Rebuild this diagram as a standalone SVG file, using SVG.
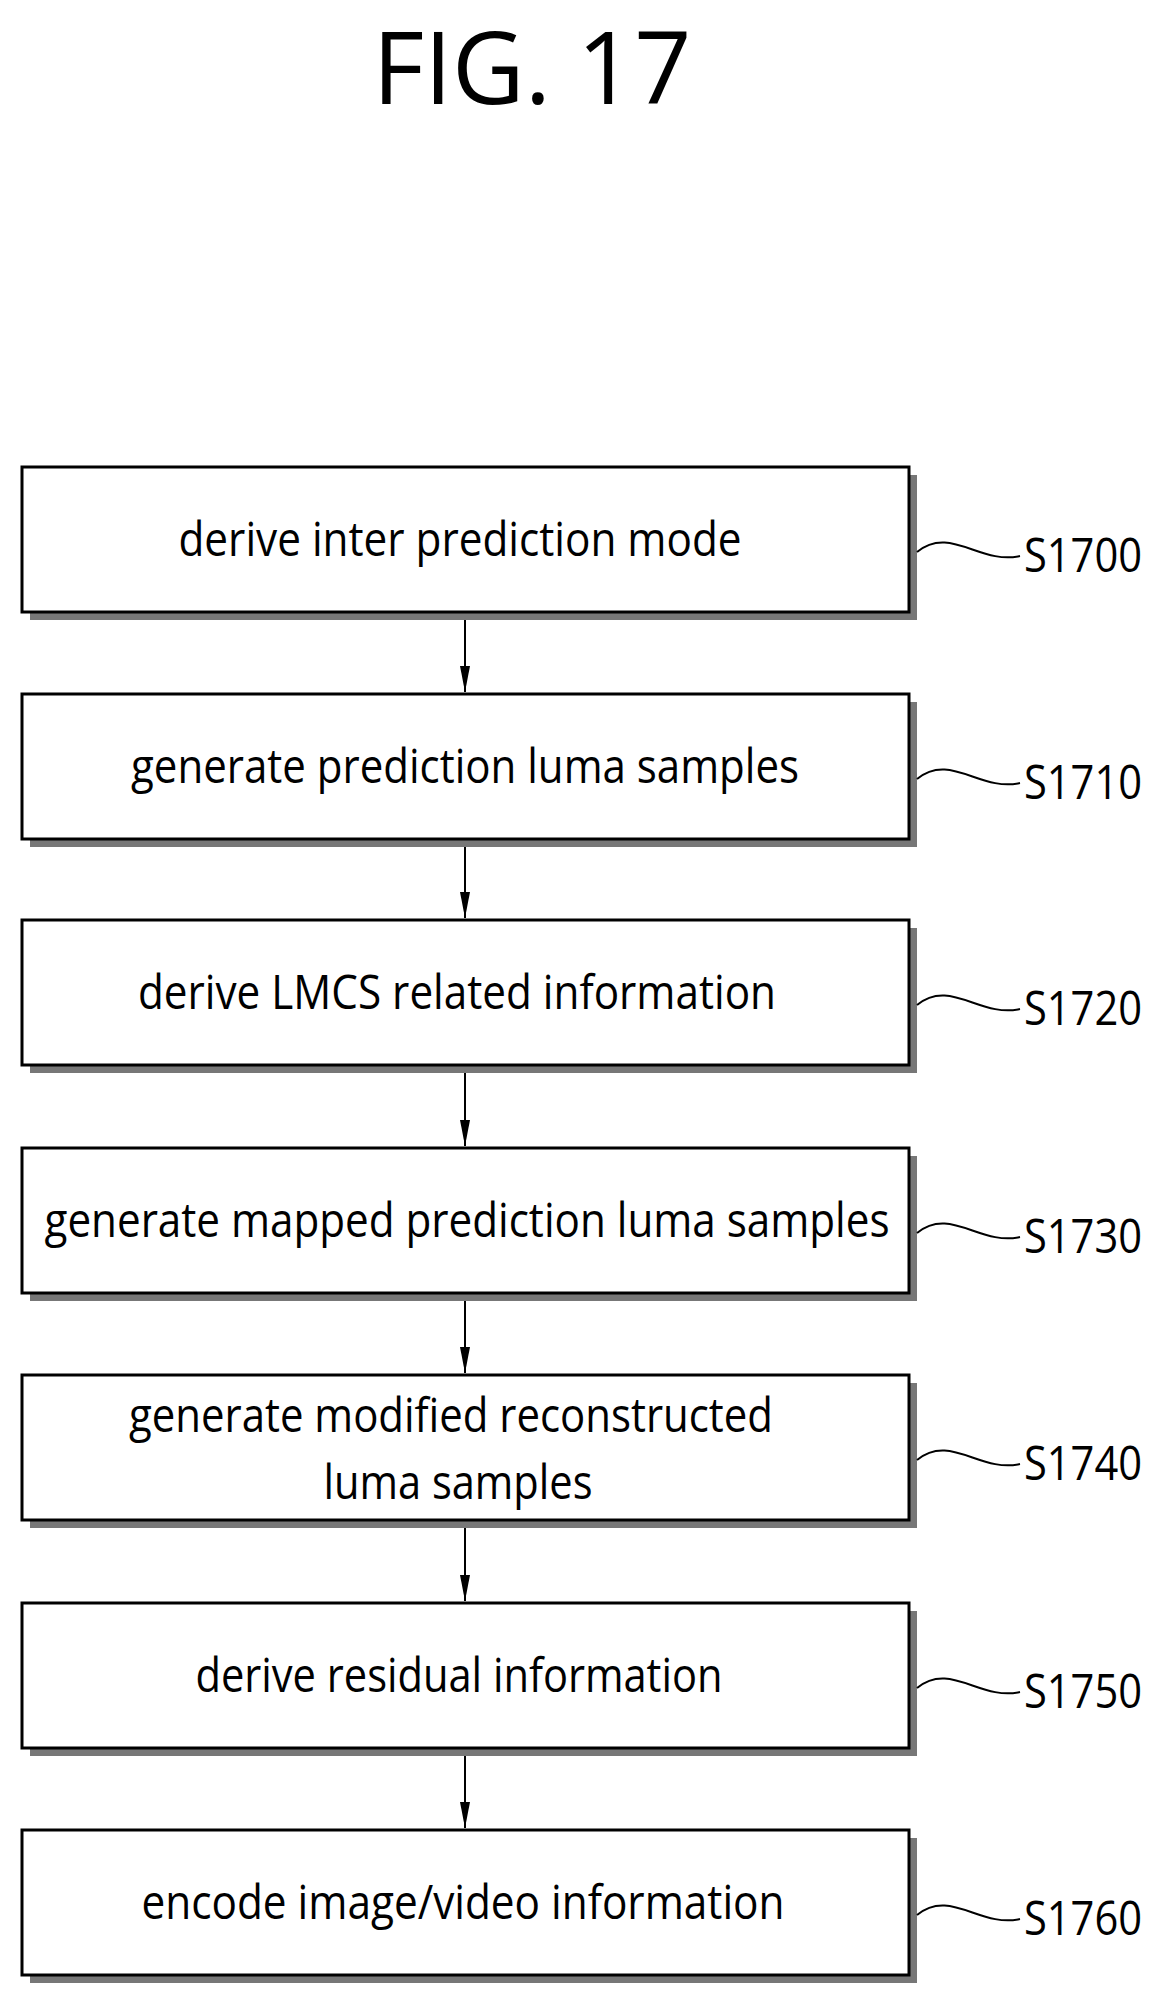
<svg xmlns="http://www.w3.org/2000/svg" width="1165" height="2012" viewBox="0 0 1165 2012">
<style>
.box{fill:#fff;stroke:#000;stroke-width:3}
.sh{fill:#777}
text{font-family:"Open Sans","Liberation Sans",sans-serif;fill:#000}
.t{font-size:48px;text-anchor:middle}
.l{font-size:48px}
.c{stroke:#000;stroke-width:2;fill:none}
</style>
<defs>
<marker id="ah" markerWidth="26" markerHeight="10" refX="26" refY="5" orient="auto" markerUnits="userSpaceOnUse" viewBox="0 0 26 10"><path d="M0,0 L26,5 L0,10 Z" fill="#000"/></marker>
</defs>
<rect width="1165" height="2012" fill="#fff"/>
<text x="532" y="104" font-size="100" text-anchor="middle">FIG. 17</text>
<g id="connectors">
<path class="c" d="M465,620 V692" marker-end="url(#ah)"/>
<path class="c" d="M465,847 V918" marker-end="url(#ah)"/>
<path class="c" d="M465,1073 V1146" marker-end="url(#ah)"/>
<path class="c" d="M465,1301 V1373" marker-end="url(#ah)"/>
<path class="c" d="M465,1528 V1601" marker-end="url(#ah)"/>
<path class="c" d="M465,1756 V1828" marker-end="url(#ah)"/>
</g>
<g id="n1700"><rect class="sh" x="30" y="475" width="887" height="145"/><rect class="box" x="22" y="467" width="887" height="145"/><text class="t" x="460" y="556" textLength="563" lengthAdjust="spacingAndGlyphs">derive inter prediction mode</text><path class="c" d="M917,552 C950,525 980,565 1020,556"/><text class="l" x="1024" y="572" textLength="118" lengthAdjust="spacingAndGlyphs">S1700</text></g>
<g id="n1710"><rect class="sh" x="30" y="702" width="887" height="145"/><rect class="box" x="22" y="694" width="887" height="145"/><text class="t" x="465" y="783" textLength="668" lengthAdjust="spacingAndGlyphs">generate prediction luma samples</text><path class="c" d="M917,779 C950,752 980,792 1020,783"/><text class="l" x="1024" y="799" textLength="118" lengthAdjust="spacingAndGlyphs">S1710</text></g>
<g id="n1720"><rect class="sh" x="30" y="928" width="887" height="145"/><rect class="box" x="22" y="920" width="887" height="145"/><text class="t" x="457" y="1009" textLength="638" lengthAdjust="spacingAndGlyphs">derive LMCS related information</text><path class="c" d="M917,1005 C950,978 980,1018 1020,1009"/><text class="l" x="1024" y="1025" textLength="118" lengthAdjust="spacingAndGlyphs">S1720</text></g>
<g id="n1730"><rect class="sh" x="30" y="1156" width="887" height="145"/><rect class="box" x="22" y="1148" width="887" height="145"/><text class="t" x="467" y="1237" textLength="845" lengthAdjust="spacingAndGlyphs">generate mapped prediction luma samples</text><path class="c" d="M917,1233 C950,1206 980,1246 1020,1237"/><text class="l" x="1024" y="1253" textLength="118" lengthAdjust="spacingAndGlyphs">S1730</text></g>
<g id="n1740"><rect class="sh" x="30" y="1383" width="887" height="145"/><rect class="box" x="22" y="1375" width="887" height="145"/><text class="t" x="451" y="1432" textLength="644" lengthAdjust="spacingAndGlyphs">generate modified reconstructed</text><text class="t" x="458" y="1499" textLength="269" lengthAdjust="spacingAndGlyphs">luma samples</text><path class="c" d="M917,1460 C950,1433 980,1473 1020,1464"/><text class="l" x="1024" y="1480" textLength="118" lengthAdjust="spacingAndGlyphs">S1740</text></g>
<g id="n1750"><rect class="sh" x="30" y="1611" width="887" height="145"/><rect class="box" x="22" y="1603" width="887" height="145"/><text class="t" x="459" y="1692" textLength="527" lengthAdjust="spacingAndGlyphs">derive residual information</text><path class="c" d="M917,1688 C950,1661 980,1701 1020,1692"/><text class="l" x="1024" y="1708" textLength="118" lengthAdjust="spacingAndGlyphs">S1750</text></g>
<g id="n1760"><rect class="sh" x="30" y="1838" width="887" height="145"/><rect class="box" x="22" y="1830" width="887" height="145"/><text class="t" x="463" y="1919" textLength="643" lengthAdjust="spacingAndGlyphs">encode image/video information</text><path class="c" d="M917,1915 C950,1888 980,1928 1020,1919"/><text class="l" x="1024" y="1935" textLength="118" lengthAdjust="spacingAndGlyphs">S1760</text></g>
</svg>
